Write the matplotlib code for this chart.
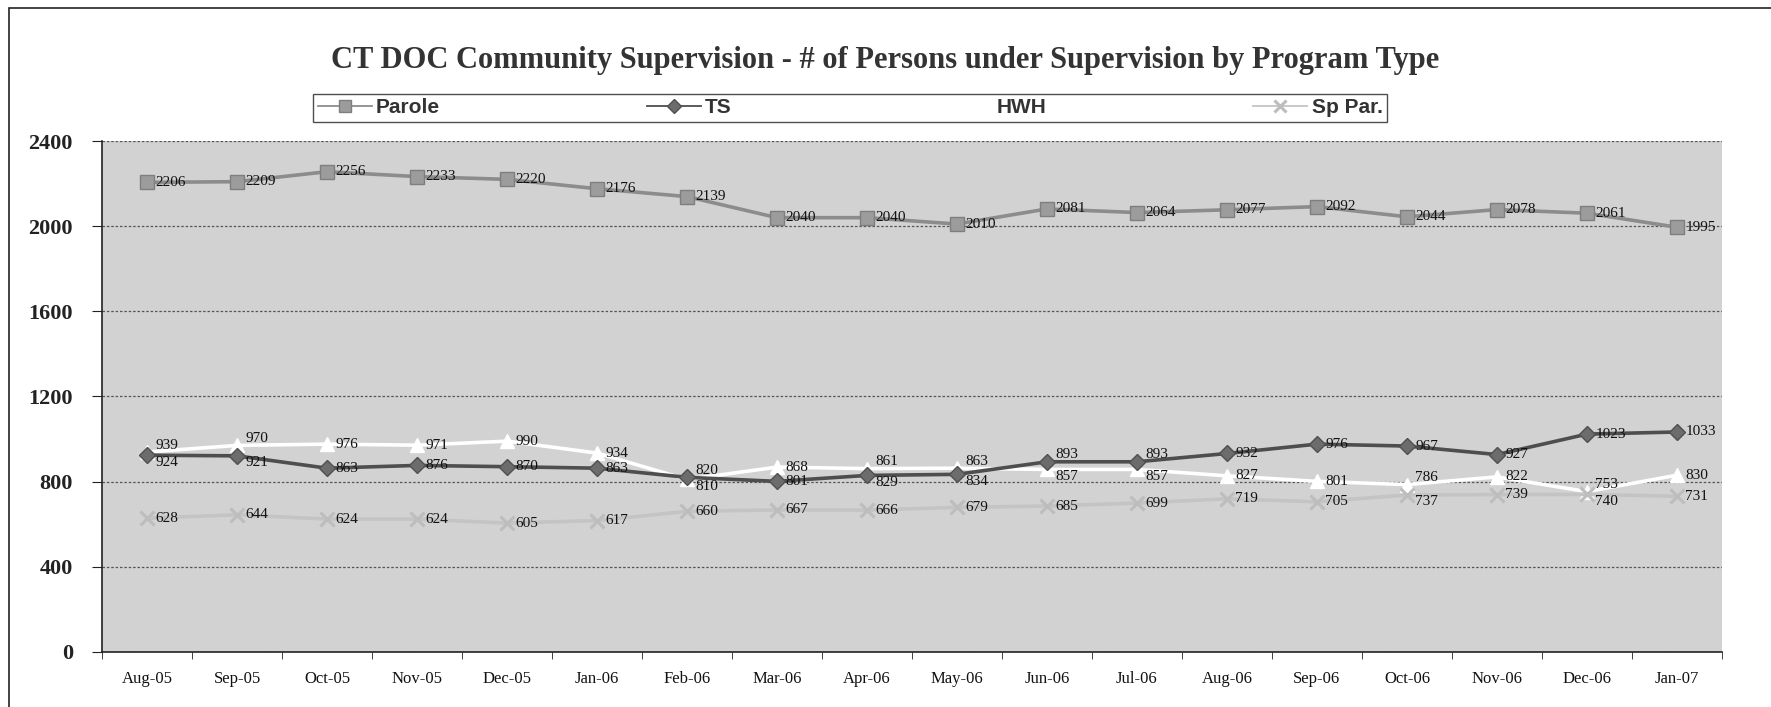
import matplotlib
matplotlib.use("Agg")
import matplotlib.pyplot as plt
from matplotlib.patches import Rectangle
from matplotlib.lines import Line2D

months = ["Aug-05", "Sep-05", "Oct-05", "Nov-05", "Dec-05", "Jan-06", "Feb-06", "Mar-06", "Apr-06",
          "May-06", "Jun-06", "Jul-06", "Aug-06", "Sep-06", "Oct-06", "Nov-06", "Dec-06", "Jan-07"]
parole = [2206, 2209, 2256, 2233, 2220, 2176, 2139, 2040, 2040, 2010, 2081, 2064, 2077, 2092, 2044, 2078, 2061, 1995]
ts = [924, 921, 863, 876, 870, 863, 820, 801, 829, 834, 893, 893, 932, 976, 967, 927, 1023, 1033]
hwh = [939, 970, 976, 971, 990, 934, 810, 868, 861, 863, 857, 857, 827, 801, 786, 822, 753, 830]
sppar = [628, 644, 624, 624, 605, 617, 660, 667, 666, 679, 685, 699, 719, 705, 737, 739, 740, 731]
yticks = [0, 400, 800, 1200, 1600, 2000, 2400]

serif = "Liberation Serif"
sans = "Liberation Sans"

fig = plt.figure(figsize=(17.71, 7.07), dpi=100)
fig.patch.set_facecolor("white")
# outer chart border
fig.add_artist(Rectangle((0.005, -0.01), 1.2, 0.998, transform=fig.transFigure,
                         fill=False, edgecolor="#222222", linewidth=1.2))

ax = fig.add_axes([0.0576, 0.078, 0.9147, 0.7225])
ax.set_facecolor("#d2d2d2")
x = list(range(len(months)))

series = [
    ("Parole", parole, dict(color="#8c8c8c", lw=2.6, marker="s", ms=9.5, mfc="#9c9c9c", mec="#7e7e7e", zorder=4)),
    ("TS", ts, dict(color="#4e4e4e", lw=2.6, marker="D", ms=8, mfc="#6c6c6c", mec="#505050", zorder=4)),
    ("HWH", hwh, dict(color="white", lw=2.6, marker="^", ms=10, mfc="white", mec="white", zorder=3)),
    ("Sp Par.", sppar, dict(color="#c4c4c4", lw=2.6, marker="x", ms=10, mew=2.2, mec="#bdbdbd", zorder=3)),
]
lower = [ts, hwh, sppar]


def label_dy(vals, i):
    """Nudge a label up/down when another lower-band series has a close value."""
    v = vals[i]
    for other in lower:
        if other is vals:
            continue
        if abs(other[i] - v) < 60:
            return 5 if v >= other[i] else -5
    return 0


handles = []
for name, vals, st in series:
    ax.plot(x, vals, label=name, **st)
    hst = dict(st)
    hst["lw"] = 1.3
    hst["ms"] = st["ms"] * 0.9
    handles.append(Line2D([], [], label=name, **hst))
    for xi, v in zip(x, vals):
        dy = label_dy(vals, xi) if vals is not parole else 0
        ax.annotate(str(v), (xi, v), xytext=(6, dy), textcoords="offset points",
                    ha="left", va="center", fontsize=11, family=serif, color="#111111", zorder=6)

ax.set_xlim(-0.5, len(months) - 0.5)
ax.set_ylim(0, 2400)
ax.set_yticks(yticks)
ax.set_yticklabels([str(t) for t in yticks], fontsize=16, fontweight="bold", family=serif, color="#222222")
ax.set_xticks(x)
ax.set_xticklabels(months, fontsize=12, family=serif, color="#111111")
ax.set_xticks([i + 0.5 for i in range(-1, len(months))], minor=True)
ax.tick_params(axis="x", which="major", length=0, pad=14)
ax.tick_params(axis="x", which="minor", length=5, direction="out", color="#222222")
ax.tick_params(axis="y", length=7, direction="out", color="#222222", pad=14)
ax.grid(axis="y", color="#555555", linestyle=(0, (2, 1.5)), linewidth=0.9, zorder=0)
ax.set_axisbelow(True)
for s in ["top", "right"]:
    ax.spines[s].set_visible(False)
ax.spines["left"].set_color("#222222")
ax.spines["bottom"].set_color("#222222")
ax.spines["left"].set_linewidth(1.2)
ax.spines["bottom"].set_linewidth(1.2)

fig.text(0.5, 0.915, "CT DOC Community Supervision - # of Persons under Supervision by Program Type",
         ha="center", va="center", fontsize=22, fontweight="bold", family=serif, color="#333333")

leg = fig.legend(handles=handles, loc="lower left", bbox_to_anchor=(0.177, 0.828, 0.606, 0.045),
                 mode="expand", ncol=4, frameon=True, fancybox=False, edgecolor="#222222",
                 prop={"family": sans, "weight": "bold", "size": 15}, handlelength=2.6,
                 borderaxespad=0, borderpad=0.2, handletextpad=0.2)
leg.get_frame().set_linewidth(1.0)
for t in leg.get_texts():
    t.set_color("#333333")

fig.savefig("out.png", dpi=100, facecolor="white")
